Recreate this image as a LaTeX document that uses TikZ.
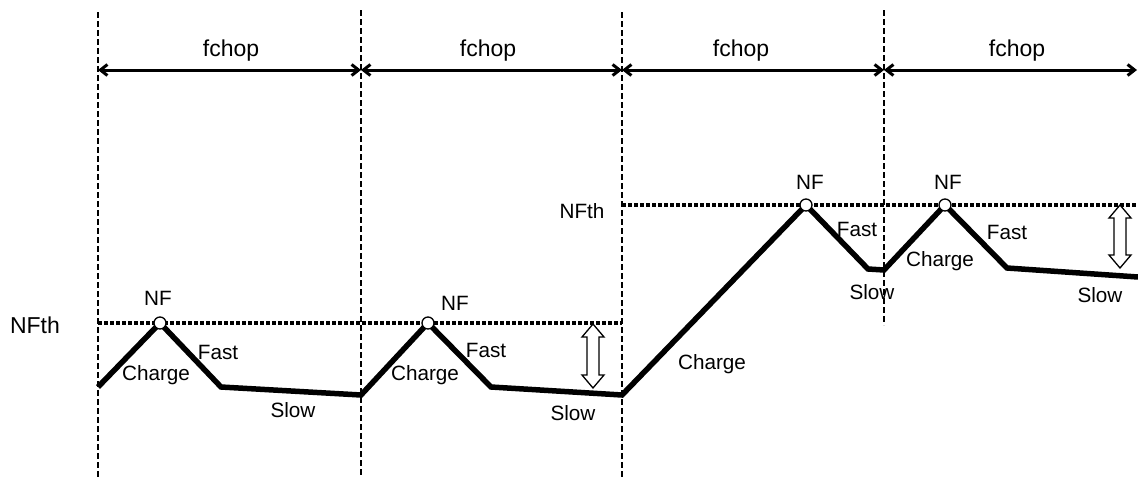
\documentclass[tikz,border=0pt]{standalone}
\usepackage{fontspec}
\setmainfont{Liberation Sans}
\usetikzlibrary{arrows.meta}
\newcommand{\ylo}{323}
\newcommand{\yhi}{205}
% hollow double arrow: x, top, bottom
\newcommand{\gaparrow}[3]{%
  \draw[gap] (#1,#2) -- (#1-11,#2+13) -- (#1-6,#2+13) -- (#1-6,#3-13) -- (#1-11,#3-13)
    -- (#1,#3) -- (#1+11,#3-13) -- (#1+6,#3-13) -- (#1+6,#2+13) -- (#1+11,#2+13) -- cycle;}

\begin{document}
\begin{tikzpicture}[x=1pt, y=-1pt,
    lbl/.style={font=\fontsize{20.7}{25}\selectfont, inner sep=0pt},
    biglbl/.style={font=\fontsize{23}{27}\selectfont, inner sep=0pt},
    wave/.style={line width=5.5pt, line join=miter},
    thr/.style={line width=3.3pt, dash pattern=on 3.5pt off 2.5pt},
    border/.style={line width=1.1pt, dash pattern=on 6pt off 3pt},
    span/.style={line width=3pt, {Straight Barb[length=7pt,width=11pt]}-{Straight Barb[length=7pt,width=11pt]}},
    peak/.style={circle, draw, fill=white, line width=1.3pt, minimum size=12pt, inner sep=0pt},
    gap/.style={draw, fill=white, line width=1.3pt}]
    \useasboundingbox (0,0) rectangle (1138,477);

    % Period borders
    \coordinate (b1t) at (98,12);  \coordinate (b1b) at (98,477);
    \coordinate (b2t) at (361,10); \coordinate (b2b) at (361,477);
    \coordinate (b3t) at (622,12); \coordinate (b3b) at (622,477);
    \coordinate (b4t) at (884,10); \coordinate (b4b) at (884,325);
    \coordinate (b5) at (1137,70);
    \draw[border] (b1t) -- (b1b);
    \draw[border] (b2t) -- (b2b);
    \draw[border] (b3t) -- (b3b);
    \draw[border] (b4t) -- (b4b);

    % Chopping periods
    \draw[span] (98,70) -- (361,70);
    \draw[span] (361,70) -- (622,70);
    \draw[span] (622,70) -- (884,70);
    \draw[span] (884,70) -- (b5);
    \node[biglbl] (fchop-1) at (231,51) {fchop};
    \node[biglbl] (fchop-2) at (488,51) {fchop};
    \node[biglbl] (fchop-3) at (741,51) {fchop};
    \node[biglbl] (fchop-4) at (1017,51) {fchop};

    % Thresholds
    \draw[thr] (98,\ylo) -- (622,\ylo);
    \draw[thr] (622,\yhi) -- (1138,\yhi);
    \node[biglbl] (nfth-1) at (35,325) {NFth};
    \node[lbl] (nfth-2) at (582,211) {NFth};

    % Noise floor trace
    \coordinate (w0) at (98,387);
    \coordinate (p1) at (160,\ylo);
    \coordinate (w1) at (221,387);
    \coordinate (w2) at (361,395);
    \coordinate (p2) at (428,\ylo);
    \coordinate (w3) at (491,387);
    \coordinate (w4) at (622,395);
    \coordinate (p3) at (806,\yhi);
    \coordinate (w5) at (868,269);
    \coordinate (w6) at (884,270);
    \coordinate (p4) at (945,\yhi);
    \coordinate (w7) at (1007,268);
    \coordinate (w8) at (1138,277);
    \draw[wave] (w0) -- (p1) -- (w1) -- (w2) -- (p2) -- (w3) -- (w4)
        -- (p3) -- (w5) -- (w6) -- (p4) -- (w7) -- (w8);
    \node[peak] (nf-1) at (p1) {};
    \node[peak] (nf-2) at (p2) {};
    \node[peak] (nf-3) at (p3) {};
    \node[peak] (nf-4) at (p4) {};

    % Gaps to threshold
    \gaparrow{593}{324}{388}
    \gaparrow{1120}{205}{268}

    % First period
    \node[lbl] (nf-1-l) at (158,298) {NF};
    \node[lbl] (charge-1) at (156,375) {Charge};
    \node[lbl] (fast-1) at (218,352) {Fast};
    \node[lbl] (slow-1) at (293,410) {Slow};

    % Second period
    \node[lbl] (nf-2-l) at (455,303) {NF};
    \node[lbl] (charge-2) at (425,375) {Charge};
    \node[lbl] (fast-2) at (486,350) {Fast};
    \node[lbl] (slow-2) at (573,413) {Slow};

    % Third period
    \node[lbl] (nf-3-l) at (810,182) {NF};
    \node[lbl] (charge-3) at (712,364) {Charge};
    \node[lbl] (fast-3) at (857,229) {Fast};
    \node[lbl] (slow-3) at (872,292) {Slow};

    % Fourth period
    \node[lbl] (nf-4-l) at (948,182) {NF};
    \node[lbl] (charge-4) at (940,261) {Charge};
    \node[lbl] (fast-4) at (1007,232) {Fast};
    \node[lbl] (slow-4) at (1100,295) {Slow};

\end{tikzpicture}
\end{document}
